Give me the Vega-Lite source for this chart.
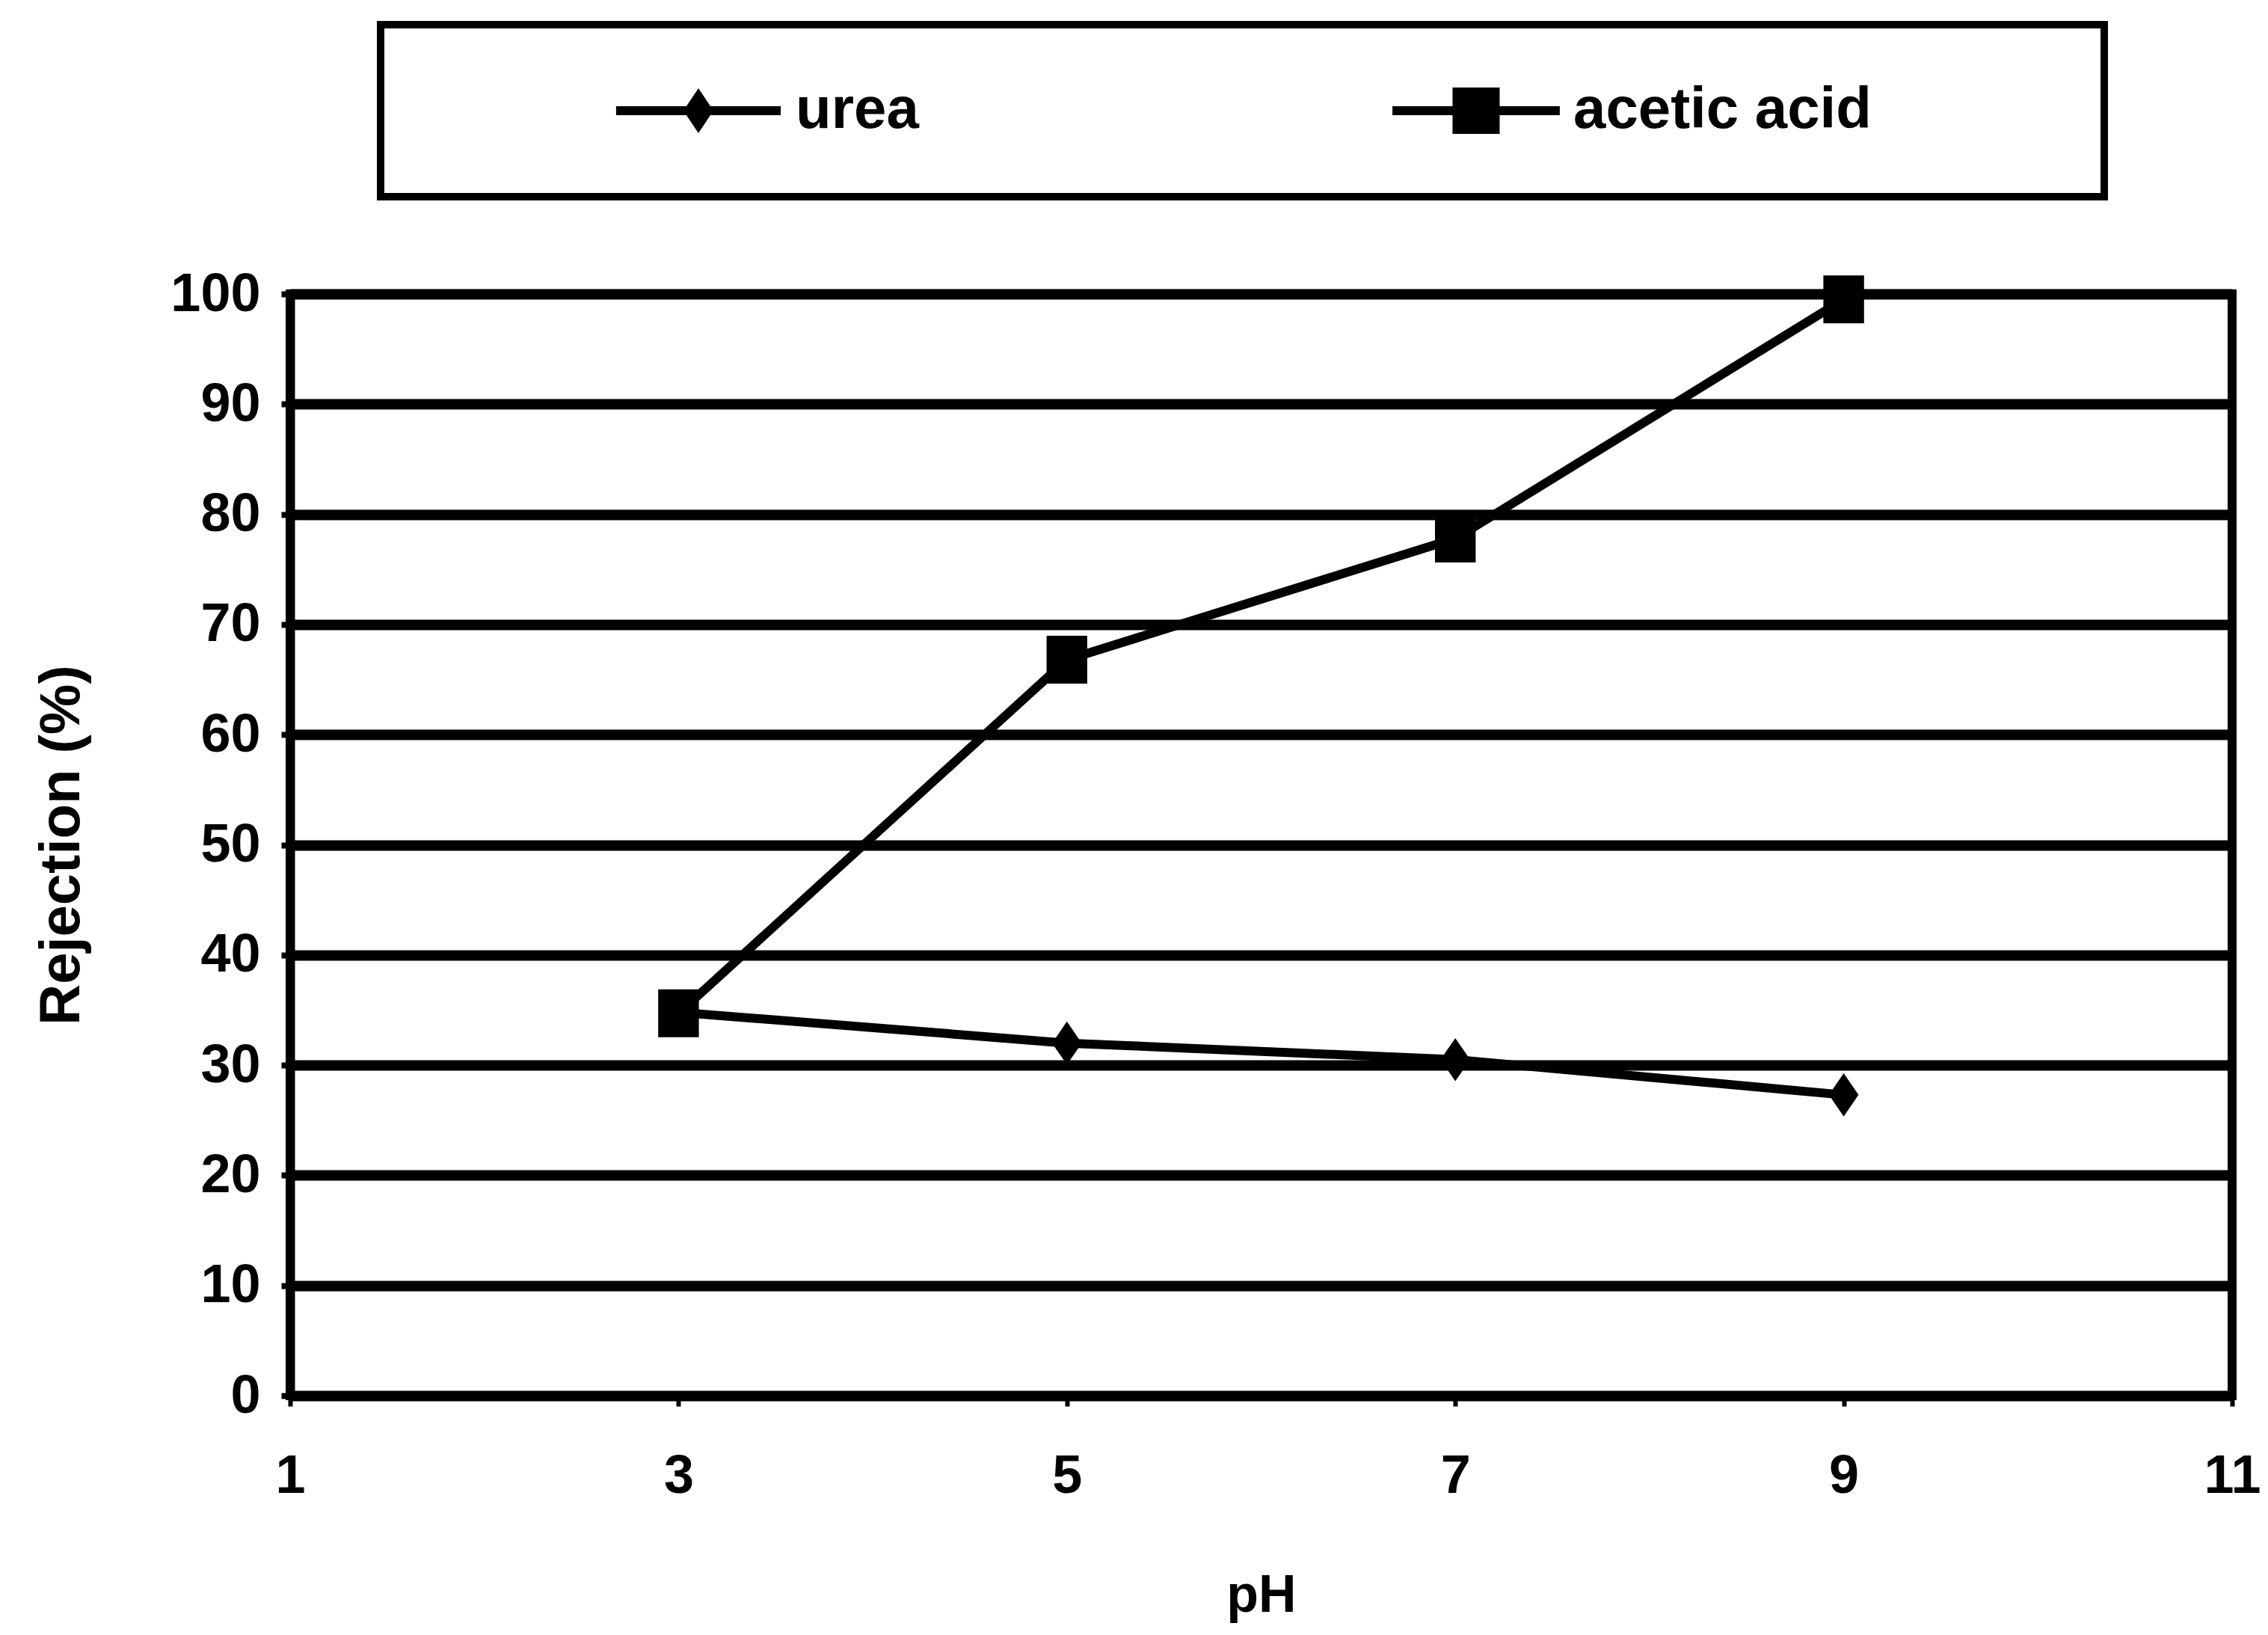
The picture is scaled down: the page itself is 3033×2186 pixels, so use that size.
{
  "$schema": "https://vega.github.io/schema/vega-lite/v6.json",
  "width": 2597,
  "height": 1473,
  "autosize": {"type": "none"},
  "padding": {"left": 388, "top": 393, "right": 48, "bottom": 320},
  "background": "white",
  "config": {
    "view": {"stroke": "black", "strokeWidth": 12},
    "font": "Liberation Sans",
    "legend": {"strokeWidth": 10, "strokeColor": "black"}
  },
  "data": {
    "values": [
      {"series": "urea", "pH": 3, "rejection": 34.8},
      {"series": "urea", "pH": 5, "rejection": 32.0},
      {"series": "urea", "pH": 7, "rejection": 30.5},
      {"series": "urea", "pH": 9, "rejection": 27.3},
      {"series": "acetic acid", "pH": 3, "rejection": 34.7},
      {"series": "acetic acid", "pH": 5, "rejection": 66.8},
      {"series": "acetic acid", "pH": 7, "rejection": 77.8},
      {"series": "acetic acid", "pH": 9, "rejection": 99.5}
    ]
  },
  "encoding": {
    "x": {
      "field": "pH",
      "type": "quantitative",
      "scale": {"domain": [1, 11], "nice": false, "zero": false},
      "axis": {
        "values": [1, 3, 5, 7, 9, 11],
        "grid": false,
        "domainColor": "black",
        "domainWidth": 12,
        "tickColor": "black",
        "tickWidth": 6,
        "tickSize": 14,
        "labelFont": "Liberation Sans",
        "labelFontWeight": "bold",
        "labelFontSize": 72,
        "labelColor": "black",
        "labelPadding": 58,
        "labelFlush": false,
        "title": "pH",
        "titleFont": "Liberation Sans",
        "titleFontSize": 70,
        "titleFontWeight": "bold",
        "titleColor": "black",
        "titlePadding": 90
      }
    },
    "y": {
      "field": "rejection",
      "type": "quantitative",
      "scale": {"domain": [0, 100], "nice": false},
      "axis": {
        "values": [0, 10, 20, 30, 40, 50, 60, 70, 80, 90, 100],
        "grid": true,
        "gridColor": "black",
        "gridWidth": 14,
        "gridOpacity": 1,
        "domainColor": "black",
        "domainWidth": 12,
        "tickColor": "black",
        "tickWidth": 8,
        "tickSize": 12,
        "labelFont": "Liberation Sans",
        "labelFontWeight": "bold",
        "labelFontSize": 72,
        "labelColor": "black",
        "labelPadding": 28,
        "labelFlush": false,
        "title": "Rejection (%)",
        "titleFont": "Liberation Sans",
        "titleFontSize": 76,
        "titleFontWeight": "bold",
        "titleColor": "black",
        "titlePadding": 106
      }
    }
  },
  "layer": [
    {
      "mark": {"type": "line", "strokeWidth": 12},
      "encoding": {
        "color": {
          "field": "series",
          "type": "nominal",
          "scale": {"domain": ["urea", "acetic acid"], "range": ["black", "black"]},
          "legend": {
            "orient": "none",
            "legendX": 121,
            "legendY": -360,
            "direction": "horizontal",
            "columns": 2,
            "columnPadding": 396,
            "title": null,
            "padding": 76,
            "strokeColor": "black",
            "symbolSize": 3600,
            "symbolStrokeWidth": 0,
            "symbolOpacity": 1,
            "symbolOffset": 310,
            "labelFont": "Liberation Sans",
            "labelFontSize": 78,
            "labelFontWeight": "bold",
            "labelColor": "black",
            "labelOffset": 91,
            "labelLimit": 0,
            "encode": {
              "symbols": {
                "update": {
                  "fill": {"value": "black"},
                  "shape": {"signal": "datum.value === 'urea' ? 'M-3.67,-0.2L3.67,-0.2L3.67,0.2L-3.67,0.2ZM0,-1L0.67,0L0,1L-0.67,0Z' : 'M-3.73,-0.2L3.73,-0.2L3.73,0.2L-3.73,0.2ZM-1.05,-1.03L1.05,-1.03L1.05,1.03L-1.05,1.03ZM25.45,0'"}
                }
              }
            }
          }
        }
      }
    },
    {
      "transform": [{"filter": "datum.series === 'urea'"}],
      "mark": {"type": "point", "filled": true, "opacity": 1, "size": 4096, "color": "black", "shape": "M0,-0.9L0.62,0L0,0.9L-0.62,0Z"},
      "encoding": {}
    },
    {
      "transform": [{"filter": "datum.series === 'acetic acid'"}],
      "mark": {"type": "point", "filled": true, "opacity": 1, "size": 4096, "color": "black", "shape": "M-0.85,-1L0.85,-1L0.85,1L-0.85,1Z"},
      "encoding": {}
    }
  ]
}
